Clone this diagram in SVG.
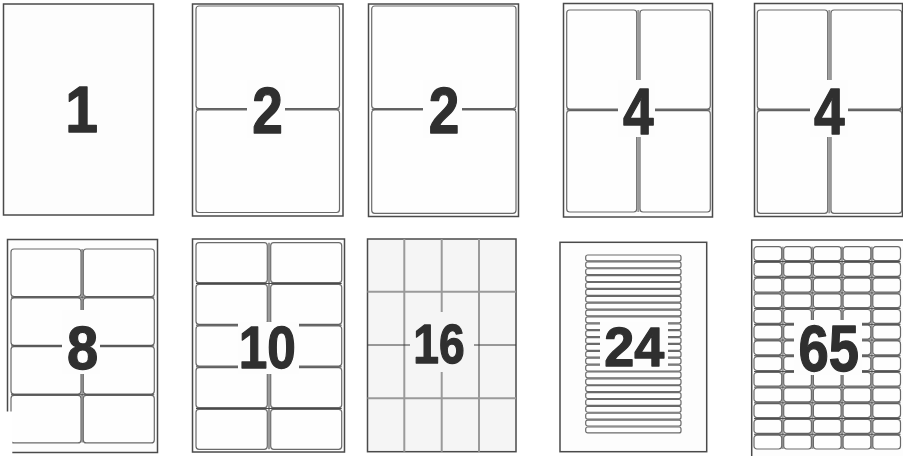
<svg xmlns="http://www.w3.org/2000/svg" xmlns:xlink="http://www.w3.org/1999/xlink" width="903" height="456" viewBox="0 0 903 456">
<style>
.sheet{fill:#fdfdfd;stroke:#4a4a4a;stroke-width:1.5}
.lab{fill:#fefefe;stroke:#6a6a6a;stroke-width:1.2}
.gap{stroke:#9a9a9a;stroke-width:2;fill:none}
.mask{fill:#fdfdfd;stroke:none}
.num{font-family:"Liberation Sans",Arial,sans-serif;font-weight:700;fill:#2f2f2f;stroke:#2f2f2f;stroke-width:1.3;stroke-linejoin:round;text-anchor:middle}
</style>
<defs>
<rect id="l65" width="27.7" height="13.9" rx="3" class="lab"/>
<rect id="s24" width="95.3" height="5.9" rx="2" class="lab"/>
</defs>
<rect width="903" height="456" fill="#ffffff"/>

<g id="sheet-1">
<rect class="sheet" x="3.5" y="4" width="150" height="211"/>
<text class="num" transform="translate(81.5 131.5) scale(0.92 1)" font-size="64">1</text>
</g>

<g id="sheet-2a">
<rect class="sheet" x="192.5" y="4" width="150.5" height="212"/>
<rect class="lab" x="196" y="6" width="143.5" height="102.5" rx="3"/>
<rect class="lab" x="196" y="110" width="143.5" height="102.5" rx="3"/>
<line x1="196" y1="109.2" x2="339.5" y2="109.2" stroke="#4a4a4a" stroke-width="1"/>
<rect class="mask" x="247" y="80" width="38" height="58"/>
<text class="num" transform="translate(267.5 132.5) scale(0.86 1)" font-size="64">2</text>
</g>

<g id="sheet-2b">
<rect class="sheet" x="368.5" y="4" width="150" height="212.5"/>
<rect class="lab" x="371.7" y="6" width="144.3" height="102.5" rx="3"/>
<rect class="lab" x="371.7" y="110" width="144.3" height="103.3" rx="3"/>
<line x1="371.7" y1="109.3" x2="516" y2="109.3" stroke="#4a4a4a" stroke-width="1"/>
<rect class="mask" x="423" y="80" width="39" height="58"/>
<text class="num" transform="translate(444 132.5) scale(0.86 1)" font-size="64">2</text>
</g>

<g id="sheet-4a">
<rect class="sheet" x="563.5" y="3.5" width="149" height="213.5"/>
<line class="gap" x1="638.3" y1="10" x2="638.3" y2="212"/>
<rect class="lab" x="566.7" y="10" width="70" height="99" rx="3"/>
<rect class="lab" x="640" y="10" width="70.3" height="99" rx="3"/>
<rect class="lab" x="566.7" y="110.7" width="70" height="101.3" rx="3"/>
<rect class="lab" x="640" y="110.7" width="70.3" height="101.3" rx="3"/>
<line x1="566.7" y1="109.8" x2="710.3" y2="109.8" stroke="#4a4a4a" stroke-width="1"/>
<rect class="mask" x="618" y="80" width="37" height="57"/>
<text class="num" transform="translate(638.3 133.8) scale(0.86 1)" font-size="64">4</text>
</g>

<g id="sheet-4b">
<rect class="sheet" x="754.5" y="3.5" width="148" height="213"/>
<line class="gap" x1="829.3" y1="10" x2="829.3" y2="213.3"/>
<rect class="lab" x="757.3" y="10" width="70.4" height="99" rx="3"/>
<rect class="lab" x="831" y="10" width="70.7" height="99" rx="3"/>
<rect class="lab" x="757.3" y="110.7" width="70.4" height="102.6" rx="3"/>
<rect class="lab" x="831" y="110.7" width="70.7" height="102.6" rx="3"/>
<line x1="757.3" y1="109.8" x2="901.7" y2="109.8" stroke="#4a4a4a" stroke-width="1"/>
<rect class="mask" x="810" y="80" width="38" height="57"/>
<text class="num" transform="translate(829.2 133.5) scale(0.86 1)" font-size="64">4</text>
</g>

<g id="sheet-8">
<rect class="sheet" x="7.5" y="239.5" width="150" height="213"/>
<line class="gap" x1="82.2" y1="249" x2="82.2" y2="442.5"/>
<rect class="lab" x="11" y="249" width="70" height="47.5" rx="3"/>
<rect class="lab" x="83.3" y="249" width="71" height="47.5" rx="3"/>
<rect class="lab" x="11" y="297.8" width="70" height="47.5" rx="3"/>
<rect class="lab" x="83.3" y="297.8" width="71" height="47.5" rx="3"/>
<rect class="lab" x="11" y="346.6" width="70" height="47.5" rx="3"/>
<rect class="lab" x="83.3" y="346.6" width="71" height="47.5" rx="3"/>
<rect class="lab" x="11" y="395.4" width="70" height="47.5" rx="3"/>
<rect class="lab" x="83.3" y="395.4" width="71" height="47.5" rx="3"/>
<g stroke="#4a4a4a" stroke-width="1">
<line x1="11" y1="297.15" x2="154.3" y2="297.15"/>
<line x1="11" y1="345.95" x2="154.3" y2="345.95"/>
<line x1="11" y1="394.75" x2="154.3" y2="394.75"/>
</g>
<rect class="mask" x="62" y="310" width="38" height="64"/>
<text class="num" transform="translate(82.5 368.8) scale(0.92 1)" font-size="61">8</text>
<rect x="0" y="411.5" width="12.3" height="44.5" fill="#ffffff"/>
</g>

<g id="sheet-10">
<rect class="sheet" x="192.5" y="239" width="152" height="213"/>
<line class="gap" x1="269" y1="242.7" x2="269" y2="449.3"/>
<rect class="lab" x="196" y="242.7" width="71.3" height="40" rx="3"/>
<rect class="lab" x="270.7" y="242.7" width="71" height="40" rx="3"/>
<rect class="lab" x="196" y="284.35" width="71.3" height="40" rx="3"/>
<rect class="lab" x="270.7" y="284.35" width="71" height="40" rx="3"/>
<rect class="lab" x="196" y="326" width="71.3" height="40" rx="3"/>
<rect class="lab" x="270.7" y="326" width="71" height="40" rx="3"/>
<rect class="lab" x="196" y="367.65" width="71.3" height="40" rx="3"/>
<rect class="lab" x="270.7" y="367.65" width="71" height="40" rx="3"/>
<rect class="lab" x="196" y="409.3" width="71.3" height="40" rx="3"/>
<rect class="lab" x="270.7" y="409.3" width="71" height="40" rx="3"/>
<g stroke="#4a4a4a" stroke-width="1">
<line x1="196" y1="283.5" x2="341.7" y2="283.5"/>
<line x1="196" y1="325.2" x2="341.7" y2="325.2"/>
<line x1="196" y1="366.8" x2="341.7" y2="366.8"/>
<line x1="196" y1="408.5" x2="341.7" y2="408.5"/>
</g>
<rect class="mask" x="238" y="322" width="61" height="52"/>
<text class="num" transform="translate(267.2 367.8) scale(0.87 1)" font-size="59">10</text>
</g>

<g id="sheet-16">
<rect x="367.5" y="239" width="148.5" height="212.7" fill="#f5f5f5" stroke="#4a4a4a" stroke-width="1.5"/>
<g class="gap">
<line x1="404.3" y1="239" x2="404.3" y2="451.7"/>
<line x1="441.7" y1="239" x2="441.7" y2="451.7"/>
<line x1="479" y1="239" x2="479" y2="451.7"/>
<line x1="367.5" y1="291.7" x2="516" y2="291.7"/>
<line x1="367.5" y1="398.3" x2="516" y2="398.3"/>
</g>
<line x1="367.5" y1="345" x2="516" y2="345" stroke="#3a3a3a" stroke-width="1"/>
<rect x="410" y="312" width="64" height="60" fill="#f5f5f5"/>
<text class="num" transform="translate(439 362.8) scale(0.84 1)" font-size="55">16</text>
</g>

<g id="sheet-24">
<rect class="sheet" x="560" y="242.3" width="146.7" height="209.4"/>
<use xlink:href="#s24" x="585.7" y="255"/>
<use xlink:href="#s24" x="585.7" y="261.88"/>
<use xlink:href="#s24" x="585.7" y="268.76"/>
<use xlink:href="#s24" x="585.7" y="275.64"/>
<use xlink:href="#s24" x="585.7" y="282.52"/>
<use xlink:href="#s24" x="585.7" y="289.4"/>
<use xlink:href="#s24" x="585.7" y="296.28"/>
<use xlink:href="#s24" x="585.7" y="303.16"/>
<use xlink:href="#s24" x="585.7" y="310.04"/>
<use xlink:href="#s24" x="585.7" y="316.92"/>
<use xlink:href="#s24" x="585.7" y="323.8"/>
<use xlink:href="#s24" x="585.7" y="330.68"/>
<use xlink:href="#s24" x="585.7" y="337.56"/>
<use xlink:href="#s24" x="585.7" y="344.44"/>
<use xlink:href="#s24" x="585.7" y="351.32"/>
<use xlink:href="#s24" x="585.7" y="358.2"/>
<use xlink:href="#s24" x="585.7" y="365.08"/>
<use xlink:href="#s24" x="585.7" y="371.96"/>
<use xlink:href="#s24" x="585.7" y="378.84"/>
<use xlink:href="#s24" x="585.7" y="385.72"/>
<use xlink:href="#s24" x="585.7" y="392.6"/>
<use xlink:href="#s24" x="585.7" y="399.48"/>
<use xlink:href="#s24" x="585.7" y="406.36"/>
<use xlink:href="#s24" x="585.7" y="413.24"/>
<use xlink:href="#s24" x="585.7" y="420.12"/>
<use xlink:href="#s24" x="585.7" y="427"/>
<rect class="mask" x="600" y="322" width="68" height="47"/>
<text class="num" transform="translate(634.3 366.2) scale(0.98 1)" font-size="55">24</text>
</g>

<g id="sheet-65">
<rect class="sheet" x="751.7" y="240" width="170" height="230"/>
<g class="gap">
<line x1="782.7" y1="246.7" x2="782.7" y2="449"/>
<line x1="812.4" y1="246.7" x2="812.4" y2="449"/>
<line x1="842.1" y1="246.7" x2="842.1" y2="449"/>
<line x1="871.8" y1="246.7" x2="871.8" y2="449"/>
</g>
<g id="rows65">
<use xlink:href="#l65" x="754" y="246.7"/><use xlink:href="#l65" x="783.7" y="246.7"/><use xlink:href="#l65" x="813.4" y="246.7"/><use xlink:href="#l65" x="843.1" y="246.7"/><use xlink:href="#l65" x="872.8" y="246.7"/>
<use xlink:href="#l65" x="754" y="262.4"/><use xlink:href="#l65" x="783.7" y="262.4"/><use xlink:href="#l65" x="813.4" y="262.4"/><use xlink:href="#l65" x="843.1" y="262.4"/><use xlink:href="#l65" x="872.8" y="262.4"/>
<use xlink:href="#l65" x="754" y="278.1"/><use xlink:href="#l65" x="783.7" y="278.1"/><use xlink:href="#l65" x="813.4" y="278.1"/><use xlink:href="#l65" x="843.1" y="278.1"/><use xlink:href="#l65" x="872.8" y="278.1"/>
<use xlink:href="#l65" x="754" y="293.8"/><use xlink:href="#l65" x="783.7" y="293.8"/><use xlink:href="#l65" x="813.4" y="293.8"/><use xlink:href="#l65" x="843.1" y="293.8"/><use xlink:href="#l65" x="872.8" y="293.8"/>
<use xlink:href="#l65" x="754" y="309.5"/><use xlink:href="#l65" x="783.7" y="309.5"/><use xlink:href="#l65" x="813.4" y="309.5"/><use xlink:href="#l65" x="843.1" y="309.5"/><use xlink:href="#l65" x="872.8" y="309.5"/>
<use xlink:href="#l65" x="754" y="325.2"/><use xlink:href="#l65" x="783.7" y="325.2"/><use xlink:href="#l65" x="813.4" y="325.2"/><use xlink:href="#l65" x="843.1" y="325.2"/><use xlink:href="#l65" x="872.8" y="325.2"/>
<use xlink:href="#l65" x="754" y="340.9"/><use xlink:href="#l65" x="783.7" y="340.9"/><use xlink:href="#l65" x="813.4" y="340.9"/><use xlink:href="#l65" x="843.1" y="340.9"/><use xlink:href="#l65" x="872.8" y="340.9"/>
<use xlink:href="#l65" x="754" y="356.6"/><use xlink:href="#l65" x="783.7" y="356.6"/><use xlink:href="#l65" x="813.4" y="356.6"/><use xlink:href="#l65" x="843.1" y="356.6"/><use xlink:href="#l65" x="872.8" y="356.6"/>
<use xlink:href="#l65" x="754" y="372.3"/><use xlink:href="#l65" x="783.7" y="372.3"/><use xlink:href="#l65" x="813.4" y="372.3"/><use xlink:href="#l65" x="843.1" y="372.3"/><use xlink:href="#l65" x="872.8" y="372.3"/>
<use xlink:href="#l65" x="754" y="388"/><use xlink:href="#l65" x="783.7" y="388"/><use xlink:href="#l65" x="813.4" y="388"/><use xlink:href="#l65" x="843.1" y="388"/><use xlink:href="#l65" x="872.8" y="388"/>
<use xlink:href="#l65" x="754" y="403.7"/><use xlink:href="#l65" x="783.7" y="403.7"/><use xlink:href="#l65" x="813.4" y="403.7"/><use xlink:href="#l65" x="843.1" y="403.7"/><use xlink:href="#l65" x="872.8" y="403.7"/>
<use xlink:href="#l65" x="754" y="419.4"/><use xlink:href="#l65" x="783.7" y="419.4"/><use xlink:href="#l65" x="813.4" y="419.4"/><use xlink:href="#l65" x="843.1" y="419.4"/><use xlink:href="#l65" x="872.8" y="419.4"/>
<use xlink:href="#l65" x="754" y="435.1"/><use xlink:href="#l65" x="783.7" y="435.1"/><use xlink:href="#l65" x="813.4" y="435.1"/><use xlink:href="#l65" x="843.1" y="435.1"/><use xlink:href="#l65" x="872.8" y="435.1"/>
</g>
<g stroke="#4a4a4a" stroke-width="1">
<line x1="754" y1="261.55" x2="900.5" y2="261.55"/>
<line x1="754" y1="277.25" x2="900.5" y2="277.25"/>
<line x1="754" y1="292.95" x2="900.5" y2="292.95"/>
<line x1="754" y1="308.65" x2="900.5" y2="308.65"/>
<line x1="754" y1="324.35" x2="900.5" y2="324.35"/>
<line x1="754" y1="340.05" x2="900.5" y2="340.05"/>
<line x1="754" y1="355.75" x2="900.5" y2="355.75"/>
<line x1="754" y1="371.45" x2="900.5" y2="371.45"/>
<line x1="754" y1="387.15" x2="900.5" y2="387.15"/>
<line x1="754" y1="402.85" x2="900.5" y2="402.85"/>
<line x1="754" y1="418.55" x2="900.5" y2="418.55"/>
<line x1="754" y1="434.25" x2="900.5" y2="434.25"/>
</g>
<rect class="mask" x="794" y="320" width="68" height="55"/>
<text class="num" transform="translate(828.7 371.2) scale(0.85 1)" font-size="64">65</text>
</g>
</svg>
